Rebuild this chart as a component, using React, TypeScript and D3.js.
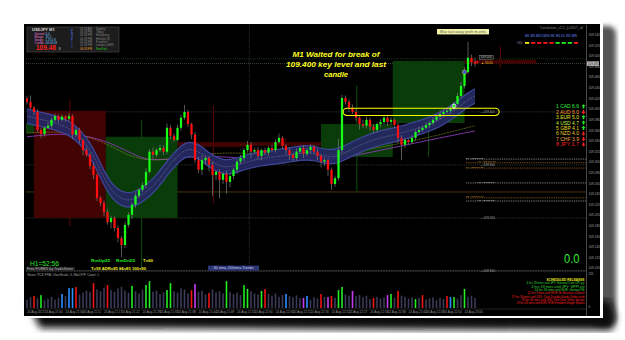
import React from "react";
import * as d3 from "d3";

// ---------- DATA ----------
const firstOpen = 109.425;
const closes = [
  109.419, 109.408, 109.400, 109.366, 109.358, 109.370, 109.374, 109.385, 109.392, 109.385,
  109.391, 109.387, 109.392, 109.357, 109.366, 109.347, 109.328, 109.319, 109.298, 109.281,
  109.238, 109.228, 109.211, 109.192, 109.200, 109.181, 109.162, 109.149, 109.187, 109.206,
  109.225, 109.242, 109.253, 109.262, 109.287, 109.325, 109.319, 109.328, 109.332, 109.325,
  109.370, 109.355, 109.347, 109.370, 109.389, 109.400, 109.377, 109.357, 109.309, 109.291,
  109.309, 109.313, 109.300, 109.281, 109.287, 109.272, 109.283, 109.268, 109.279, 109.291,
  109.306, 109.313, 109.328, 109.338, 109.325, 109.328, 109.317, 109.328, 109.323, 109.332,
  109.328, 109.343, 109.351, 109.336, 109.328, 109.319, 109.313, 109.325, 109.332, 109.321,
  109.328, 109.334, 109.325, 109.317, 109.306, 109.309, 109.291, 109.264, 109.275, 109.328,
  109.426, 109.419, 109.408, 109.400, 109.389, 109.377, 109.374, 109.385, 109.372, 109.366,
  109.377, 109.381, 109.389, 109.381, 109.385, 109.375, 109.351, 109.338, 109.347, 109.343,
  109.351, 109.362, 109.366, 109.370, 109.375, 109.379, 109.385, 109.391, 109.396, 109.400,
  109.402, 109.408, 109.415, 109.430, 109.449, 109.475, 109.502, 109.494, 109.491,
];
// wick lengths in points (0.001)
const wickHi = [
  4, 12, 3, 5, 4, 3, 6, 4, 5, 3, 4, 3, 6, 3, 5, 4, 3, 5, 4, 6,
  4, 3, 5, 6, 4, 3, 5, 4, 6, 5, 4, 6, 3, 5, 7, 5, 8, 4, 6, 5,
  8, 5, 4, 6, 5, 13, 4, 3, 5, 6, 8, 5, 4, 6, 3, 5, 4, 6, 5, 4,
  5, 6, 4, 7, 5, 4, 6, 3, 5, 4, 6, 5, 8, 4, 3, 5, 4, 6, 3, 5,
  4, 5, 3, 6, 4, 5, 3, 4, 5, 21, 6, 5, 4, 6, 5, 3, 8, 6, 4, 5,
  3, 5, 4, 6, 5, 3, 4, 5, 4, 3, 5, 4, 6, 3, 5, 4, 5, 3, 6, 4,
  5, 4, 3, 6, 8, 10, 30, 6, 8,
];
const wickLo = [
  5, 3, 6, 4, 8, 5, 3, 6, 4, 5, 3, 6, 4, 8, 5, 6, 10, 4, 6, 8,
  6, 5, 8, 5, 12, 6, 8, 23, 6, 5, 8, 6, 5, 4, 6, 3, 8, 5, 4, 6,
  5, 6, 4, 3, 5, 4, 6, 8, 5, 6, 10, 8, 12, 39, 10, 35, 8, 22, 10, 6,
  8, 5, 6, 4, 12, 5, 6, 8, 5, 6, 4, 5, 3, 6, 8, 10, 6, 5, 4, 8,
  5, 6, 4, 8, 10, 8, 12, 11, 5, 4, 6, 5, 8, 4, 6, 10, 5, 6, 8, 6,
  5, 6, 4, 8, 5, 6, 10, 29, 6, 5, 4, 6, 5, 4, 3, 5, 4, 3, 5, 4,
  3, 4, 5, 3, 4, 5, 4, 8, 6,
];
const volumes = [
  30, 38, 43, 35, 46, 28, 33, 40, 30, 36, 50, 42, 71, 71, 75, 48, 55, 62, 58, 89,
  66, 60, 72, 82, 64, 58, 70, 76, 62, 55, 79, 60, 52, 66, 82, 96, 58, 62, 50, 56,
  64, 89, 60, 55, 70, 66, 52, 64, 86, 58, 62, 48, 54, 66, 56, 60, 52, 96, 58, 50,
  55, 46, 82, 68, 60, 52, 48, 61, 68, 50, 44, 52, 40, 46, 50, 42, 38, 45, 35, 36,
  43, 30, 38, 34, 50, 40, 39, 43, 36, 64, 75, 48, 44, 61, 42, 46, 38, 44, 32, 36,
  40, 34, 38, 46, 50, 36, 61, 44, 40, 34, 38, 32, 36, 46, 30, 34, 38, 28, 36, 32,
  43, 39, 39, 34, 46, 68, 40, 44, 36,
];
const volKinds = (
  "ggRgGggggg" + "BgBBRggggR" + "gggRgggggg" + "GgggGGgggg" + "GGgggggRMg" +
  "ggRggggGgg" + "ggGGgggGRg" + "ggggBggggM" + "BgggRgMRgG" + "GggMgggggR" +
  "gggMGgRggg" + "gGgRgggggg" + "RBGggGggg"
).split("");

// 30 ema band centre, slow MA, mid MA (candle index, price)
const bandIdx = [0, 6, 12, 16, 18, 20, 22, 24, 26, 28, 30, 32, 34, 36, 38, 40, 42, 44, 46, 48, 50, 52, 54, 56, 58, 62, 66, 70, 74, 78, 82, 86, 90, 94, 98, 102, 106, 110, 114, 118, 122, 126, 128];
const bandVal = [109.392, 109.383, 109.372, 109.347, 109.328, 109.304, 109.275, 109.253, 109.240, 109.234, 109.234, 109.240, 109.249, 109.260, 109.275, 109.294, 109.309, 109.323, 109.330, 109.328, 109.321, 109.309, 109.302, 109.296, 109.296, 109.304, 109.311, 109.315, 109.317, 109.323, 109.323, 109.313, 109.319, 109.334, 109.345, 109.353, 109.358, 109.366, 109.374, 109.385, 109.402, 109.423, 109.430];
const slowIdx = [0, 10, 20, 29, 34, 41, 49, 58, 69, 78, 87, 95, 107, 118, 128];
const slowVal = [109.353, 109.360, 109.353, 109.325, 109.308, 109.311, 109.317, 109.315, 109.308, 109.311, 109.311, 109.319, 109.336, 109.351, 109.364];
const midIdx = [0, 10, 20, 26, 30, 35, 42, 50, 58, 70, 80, 90, 100, 110, 120, 128];
const midVal = [109.360, 109.364, 109.349, 109.328, 109.315, 109.308, 109.311, 109.321, 109.323, 109.321, 109.317, 109.321, 109.332, 109.345, 109.360, 109.374];

// higher timeframe candles overlay
const htfStart = [-18.5, 2, 22.5, 43, 63.5, 84, 104.5, 125];
const htfOpen = [109.360, 109.402, 109.200, 109.343, 109.343, 109.315, 109.379, 109.498];
const htfClose = [109.379, 109.200, 109.353, 109.334, 109.336, 109.377, 109.496, 109.491];
const htfHigh = [109.390, 109.423, 109.385, 109.411, 109.350, 109.450, 109.496, 109.523];
const htfLow = [109.350, 109.185, 109.106, 109.228, 109.332, 109.250, 109.315, 109.483];
const htfSpan = 20.5;

const priceTicks = [
  "109.545", "109.525", "109.505", "109.485", "109.465", "109.445", "109.425", "109.405",
  "109.385", "109.365", "109.345", "109.325", "109.305", "109.285", "109.265", "109.245",
  "109.225", "109.205", "109.185", "109.165", "109.145", "109.125", "109.105",
];
const roundLevels = [109.5, 109.4, 109.3, 109.2, 109.1];
const roundLabels = ["109.500", "109.400", "109.300", "109.200", "109.100"];
const keyLevel = 109.4;
const bidPrice = 109.491;
const brownLevel = 109.249;
const levelVals = [109.311, 109.304, 109.294, 109.266, 109.238, 109.232];
const levelKinds = ["w", "o", "o", "w", "o", "w"];
const levelTexts = ["11 ~985 109.31", "00 ~985 109.30", "10 ~985 109.29", "u1 ~98 109.27", "22 ~985 109.24", "17 ~98 109.23"];

const timeIdx = [0, 5, 11, 16, 22, 27, 33, 38, 43, 49, 54, 60, 65, 71, 76, 81, 87, 92, 98, 103, 109, 114, 119, 125];
const timeLabels = [
  "24 Aug 2017", "24 Aug 21:00", "24 Aug 21:06", "24 Aug 21:11", "24 Aug 21:17", "24 Aug 21:22",
  "24 Aug 21:28", "24 Aug 21:33", "24 Aug 21:38", "24 Aug 21:44", "24 Aug 21:49", "24 Aug 21:55",
  "24 Aug 22:00", "24 Aug 22:06", "24 Aug 22:11", "24 Aug 22:16", "24 Aug 22:22", "24 Aug 22:27",
  "24 Aug 22:33", "24 Aug 22:38", "24 Aug 22:44", "24 Aug 22:49", "24 Aug 22:54", "24 Aug 23:00",
];

const currencies = ["CAD", "AUD", "EUR", "USD", "GBP", "NZD", "CHF", "JPY"];
const strengths = ["6.6", "6.0", "5.0", "4.7", "4.1", "4.0", "3.9", "1.7"];
const strengthUp = [true, false, true, true, true, false, false, false];

const infoLabels = ["Spread", "Range", "Swaps", "Candle"];
const infoValues = ["0.0", "35.5", "1.3/-0.8", "00:00:08"];
const sessionTimes = ["03:18 AM", "03:18 PM", "03:18 PM", "04:18 PM", "10:18 PM", "10:18 PM", "09:18 PM"];
const sessionNames = ["Sydney", "Tokyo", "HongKong", "Helsinki (8)", "Frankfurt", "London (GMT)", "NewYork"];

const tfNames = "M1 M5 M15 M30 H1 H4 D1 W1 MN";
const tfSignals = ["y", "r", "r", "r", "r", "g", "g", "g", "r"];

const releaseTitle = "SCHEDULED RELEASES";
const releases = [
  "4 hrs 33 mins until JPY: National Core CPI y/y",
  "4 hrs 33 mins until JPY: SPPI y/y",
  "14 hrs 33 mins until EUR: German Ifo",
  "22 hrs 3 mins until EUR: Ifo Business Climate",
  "27 hrs 33 mins until USD: Core Durable Goods Orders m/m",
  "28 hrs 33 mins until USD: Fed Chair Yellen Speaks",
  "29 hrs 33 mins until EUR: ECB President Draghi Speaks",
];
const releaseUp = [true, true, true, false, false, false, false];
const releaseWidth = [58, 53, 50, 57, 73, 63, 68];

const noteLines = ["M1 Waited for break of", "109.400 key level and last", "candle"];
const noteWidths = [87, 100, 24];

// ---------- CHART ----------
const FONT = "'Liberation Sans', Arial, sans-serif";

export default function App() {
  const W = 625, H = 340;
  const n = closes.length;
  const x = d3.scaleLinear().domain([0, n - 1]).range([27, 475]);
  const y = d3.scaleLinear().domain([109.1, 109.56]).range([271, 27]);
  const yv = d3.scaleLinear().domain([0, 100]).range([308, 280]);
  const step = x(1) - x(0);

  const opens = closes.map((c, i) => (i === 0 ? firstOpen : closes[i - 1]));
  const highs = closes.map((c, i) => Math.max(c, opens[i]) + wickHi[i] / 1000);
  const lows = closes.map((c, i) => Math.min(c, opens[i]) - wickLo[i] / 1000);

  const bandPts = bandIdx.map((b, k) => [b, bandVal[k]] as [number, number]);
  const bandHalf = 0.0135;
  const area = d3.area<[number, number]>()
    .x((d) => x(d[0]))
    .y0((d) => y(d[1] - bandHalf))
    .y1((d) => y(d[1] + bandHalf))
    .curve(d3.curveBasis);
  const line = d3.line<[number, number]>().x((d) => x(d[0])).y((d) => y(d[1])).curve(d3.curveBasis);
  const upperEdge = d3.line<[number, number]>().x((d) => x(d[0])).y((d) => y(d[1] + bandHalf)).curve(d3.curveBasis);
  const lowerEdge = d3.line<[number, number]>().x((d) => x(d[0])).y((d) => y(d[1] - bandHalf)).curve(d3.curveBasis);
  const slowPts = slowIdx.map((b, k) => [b, slowVal[k]] as [number, number]);
  const midPts = midIdx.map((b, k) => [b, midVal[k]] as [number, number]);

  const volColor: Record<string, string> = { g: "#3a3b58", G: "#22ee22", R: "#ee1515", B: "#2a90ff", M: "#c23cf0" };
  const curColors = ["#33ee33", "#ff9a33", "#e8e822", "#c8ee44", "#e8dc22", "#eec833", "#f0a040", "#ff2222"];
  const sigColor: Record<string, string> = { y: "#f0f000", r: "#ff1a1a", g: "#22ee22" };

  const plotL = 26, plotR = 586;

  return (
    <svg width={W} height={H} viewBox={`0 0 ${W} ${H}`} style={{ position: "absolute", left: 0, top: 0 }} fontFamily={FONT}>
      <defs>
        <filter id="blur" x="-10%" y="-10%" width="120%" height="120%">
          <feGaussianBlur stdDeviation="3.5" />
        </filter>
        <filter id="blur2" x="-10%" y="-10%" width="120%" height="120%">
          <feGaussianBlur stdDeviation="2.5" />
        </filter>
        <clipPath id="plot">
          <rect x={plotL} y={25} width={plotR - plotL} height={246} />
        </clipPath>
      </defs>
      <rect x={0} y={0} width={W} height={H} fill="#ffffff" />
      {/* shadows */}
      <rect x={592} y={26} width={24} height={300} rx={8} fill="#555" filter="url(#blur2)" />
      <path d="M 26 300 L 610 300 L 616 318 L 612 330 L 40 328 Z" fill="#111" filter="url(#blur)" />
      <rect x={21} y={21} width={582} height={297} fill="#ffffff" />
      {/* panel */}
      <rect x={24} y={24} width={576} height={292} fill="#000000" />

      {/* grid */}
      <g clipPath="url(#plot)">
        {roundLevels.map((p, k) => (
          <line key={k} x1={plotL} x2={plotR} y1={y(p)} y2={y(p)} stroke={k === 0 ? "#2f6a2f" : "#5a5a5a"} strokeWidth={0.6} strokeDasharray="1,1.2" />
        ))}
        <line x1={x(63.5)} x2={x(63.5)} y1={25} y2={271} stroke="#5a5a5a" strokeWidth={0.6} strokeDasharray="1,1.2" />
        <line x1={plotL} x2={plotR} y1={y(bidPrice)} y2={y(bidPrice)} stroke="#6a6a6a" strokeWidth={0.6} strokeDasharray="1,1" />
        <line x1={plotL} x2={plotR} y1={y(brownLevel)} y2={y(brownLevel)} stroke="#5a4412" strokeWidth={0.8} />

        {/* higher timeframe candles */}
        {htfStart.map((s, k) => {
          const bull = htfClose[k] >= htfOpen[k];
          const xm = x(s + htfSpan / 2);
          return (
            <g key={k}>
              <line x1={xm} x2={xm} y1={y(htfHigh[k])} y2={y(htfLow[k])} stroke={bull ? "#0f5a0f" : "#6a0808"} strokeWidth={0.9} />
              <rect x={x(s)} width={x(s + htfSpan) - x(s)} y={y(Math.max(htfOpen[k], htfClose[k]))}
                height={Math.max(2.5, Math.abs(y(htfOpen[k]) - y(htfClose[k])))} fill={bull ? "#0a3c0a" : "#420303"} />
            </g>
          );
        })}

        {/* MAs */}
        <path d={line(slowPts) || ""} fill="none" stroke="#8a3ab0" strokeWidth={0.9} />
        <path d={line(midPts) || ""} fill="none" stroke="#9a9a30" strokeWidth={0.8} strokeDasharray="0.8,0.8" />
        <path d={area(bandPts) || ""} fill="#252964" opacity={0.92} />
        <path d={upperEdge(bandPts) || ""} fill="none" stroke="#3f479a" strokeWidth={1.2} />
        <path d={lowerEdge(bandPts) || ""} fill="none" stroke="#3f479a" strokeWidth={1.2} />
        <path d={line(bandPts) || ""} fill="none" stroke="#8c8ca8" strokeWidth={0.6} strokeDasharray="0.8,0.9" />

        {/* candles */}
        {closes.map((c, i) => {
          const o = opens[i];
          const up = c >= o;
          const cx = x(i);
          const top = y(Math.max(o, c));
          const h = Math.max(1, Math.abs(y(o) - y(c)));
          return (
            <g key={i}>
              <line x1={cx} x2={cx} y1={y(highs[i])} y2={y(lows[i])} stroke="#7a7a7a" strokeWidth={0.7} />
              <rect x={cx - step * 0.32} width={step * 0.64} y={top} height={h} fill={up ? "#18ff18" : "#ff1010"} />
            </g>
          );
        })}

        {/* key level marker */}
        <rect x={x(90.3)} width={x(134.9) - x(90.3)} y={y(keyLevel + 0.0068)} height={y(keyLevel - 0.0068) - y(keyLevel + 0.0068)}
          rx={3.8} fill="none" stroke="#ffff00" strokeWidth={1.1} />
        <circle cx={x(122)} cy={y(109.411)} r={2} fill="none" stroke="#ffffff" strokeWidth={0.8} />
        <circle cx={x(125)} cy={y(109.475)} r={2} fill="#2244ff" stroke="#f0e020" strokeWidth={0.6} />

        {/* right side levels */}
        {levelVals.map((p, k) => (
          <g key={k}>
            <line x1={466} x2={plotR} y1={y(p)} y2={y(p)} stroke={levelKinds[k] === "w" ? "#d8d8d8" : "#c8902a"} strokeWidth={0.6} strokeDasharray="1,0.8" />
            <text x={466 + (k % 2) * 12} y={y(p) - 0.4} fontSize={2.5} fill={levelKinds[k] === "w" ? "#d8d8d8" : "#d09a30"}>{levelTexts[k]}</text>
          </g>
        ))}
      </g>

      {/* round level labels */}
      <rect x={479.5} y={y(109.5) - 3.4} width={14} height={4} fill="#1a1a1a" stroke="#9a9a9a" strokeWidth={0.4} />
      {roundLabels.map((t, k) => (
        <text key={k} x={480.5} y={y(roundLevels[k]) + (k === 0 ? -0.5 : 1.2)} fontSize={3.1} fill="#aaaaaa">{k === 0 ? t : "\u2014" + t}</text>
      ))}
      <text x={481} y={y(bidPrice) + 0.2} fontSize={3.1} fill="#e8d020">{"\u25b2 50.50"}</text>
      <rect x={476.5} y={y(bidPrice) - 2.5} width={1.6} height={2.2} fill="#ff1010" />

      {/* price axis */}
      <line x1={plotR + 0.5} x2={plotR + 0.5} y1={25} y2={316} stroke="#777" strokeWidth={0.6} />
      {priceTicks.map((t, k) => (
        <text key={k} x={588.5} y={y(+t) + 1.1} fontSize={3.2} fill="#a0a0a0">{t}</text>
      ))}
      <rect x={587} y={y(bidPrice) - 2.2} width={12} height={4.4} fill="#c8c8c8" />
      <text x={587.6} y={y(bidPrice) + 1.2} fontSize={3.2} fill="#000">{bidPrice.toFixed(3)}</text>

      {/* sub panel */}
      <line x1={plotL} x2={plotR} y1={271} y2={271} stroke="#8a8a8a" strokeWidth={0.7} strokeDasharray="1,0.6" />
      <text x={27.5} y={275.6} fontSize={3.2} fill="#a8a8a8">Bears TICK FPA:   ChartScale: 3, NbrOfTF Count: 1</text>
      {volumes.map((v, i) => (
        <rect key={i} x={x(i) - 0.8} width={1.6} y={yv(v)} height={yv(0) - yv(v)} fill={volColor[volKinds[i]]} />
      ))}
      <text x={588.5} y={275} fontSize={3} fill="#a0a0a0">255</text>
      <text x={588.5} y={308} fontSize={3} fill="#a0a0a0">0</text>
      <line x1={plotL} x2={plotR} y1={309} y2={309} stroke="#444" strokeWidth={0.5} />
      {timeIdx.map((ti, k) => (
        <text key={k} x={x(ti)} y={312.6} fontSize={3.1} fill="#9a9a9a">{timeLabels[k]}</text>
      ))}

      {/* info box */}
      <rect x={27} y={27} width={92} height={25} fill="#1c1c1c" stroke="#555" strokeWidth={0.5} />
      <text x={32} y={31.4} fontSize={4} fontWeight="bold" fill="#dddddd">USDJPY  M1</text>
      {infoLabels.map((t, k) => (
        <g key={k}>
          <text x={34.5} y={34.8 + k * 3.2} fontSize={3} fill="#e07ad0">{t}</text>
          <text x={45.5} y={34.8 + k * 3.2} fontSize={3} fill="#7ec8ff">{infoValues[k]}</text>
        </g>
      ))}
      <text x={36} y={50} fontSize={6.5} fontWeight="bold" fill="#ff2020">109.48</text>
      <text x={58.5} y={50} fontSize={3.5} fill="#dddddd">3</text>
      {"PROFIT".split("").map((ch, k) => (
        <text key={k} x={72} y={31.5 + k * 3.2} fontSize={3} fill="#5a78ff" textAnchor="middle">{ch}</text>
      ))}
      {sessionTimes.map((t, k) => (
        <g key={k}>
          <text x={80} y={29.8 + k * 3.3} fontSize={2.8} fill={k === 6 ? "#f0a030" : "#8a8a8a"}>{t}</text>
          <text x={96} y={29.8 + k * 3.3} fontSize={2.8} fill={k === 6 ? "#22cc22" : "#8a8a8a"}>{sessionNames[k]}</text>
        </g>
      ))}

      {/* top right panel */}
      <text x={540} y={29} fontSize={2.8} fill="#8a8a8a" textLength={43} lengthAdjust="spacingAndGlyphs">Correlation_v1.5_(c)2017_all</text>
      <text x={525} y={37.2} fontSize={3} fill="#6a8cff" textLength={52} lengthAdjust="spacingAndGlyphs">{tfNames}</text>
      <text x={517} y={44} fontSize={2.6} fill="#8a8aa8">USD</text>
      {tfSignals.map((s, k) => (
        <rect key={k} x={525 + k * 6.1} y={42} width={4.2} height={1.8} fill={sigColor[s]} />
      ))}
      <rect x={437} y={29} width={52} height={5.4} fill="#f2f2a8" />
      <text x={463} y={32.9} fontSize={3} fill="#555" textAnchor="middle" textLength={46} lengthAdjust="spacingAndGlyphs">Max last away profit m-ents</text>

      {/* currency strength */}
      {currencies.map((c, k) => {
        const cy = 106.5 + k * 5.4;
        const up = strengthUp[k];
        const ax = 583.5;
        const d = up
          ? `M ${ax} ${cy - 2.3} L ${ax + 2} ${cy - 0.2} L ${ax + 0.8} ${cy - 0.2} L ${ax + 0.8} ${cy + 1.9} L ${ax - 0.8} ${cy + 1.9} L ${ax - 0.8} ${cy - 0.2} L ${ax - 2} ${cy - 0.2} Z`
          : `M ${ax} ${cy + 2.3} L ${ax + 2} ${cy + 0.2} L ${ax + 0.8} ${cy + 0.2} L ${ax + 0.8} ${cy - 1.9} L ${ax - 0.8} ${cy - 1.9} L ${ax - 0.8} ${cy + 0.2} L ${ax - 2} ${cy + 0.2} Z`;
        return (
          <g key={c}>
            <text x={556} y={cy + 1.8} fontSize={5} fill={curColors[k]} textLength={23} lengthAdjust="spacingAndGlyphs">{`${k + 1} ${c} ${strengths[k]}`}</text>
            <path d={d} fill={up ? "#22ee22" : "#ff2020"} />
          </g>
        );
      })}

      {/* annotation */}
      {noteLines.map((t, k) => (
        <text key={k} x={336} y={56.5 + k * 10} fontSize={7.3} fontWeight="bold" fontStyle="italic" fill="#ffff22"
          textAnchor="middle" textLength={noteWidths[k]} lengthAdjust="spacingAndGlyphs">{t}</text>
      ))}

      {/* big zero */}
      <text x={564} y={262.5} fontSize={13} fill="#33ee33" textLength={15.5} lengthAdjust="spacingAndGlyphs">0.0</text>

      {/* scheduled releases */}
      <text x={584.5} y={280.6} fontSize={3.2} fontWeight="bold" fill="#e8e820" textAnchor="end" textLength={38} lengthAdjust="spacingAndGlyphs">{releaseTitle}</text>
      {releases.map((t, k) => (
        <text key={k} x={584.5} y={284.2 + k * 3.35} fontSize={3} fill={releaseUp[k] ? "#33dd33" : "#ff2020"} textAnchor="end"
          textLength={releaseWidth[k]} lengthAdjust="spacingAndGlyphs">{t}</text>
      ))}

      {/* bottom-left texts */}
      <text x={30} y={266} fontSize={6.6} fill="#2ee82e" textLength={29} lengthAdjust="spacingAndGlyphs">H1=52:56</text>
      <rect x={26} y={266.8} width={49} height={3.8} fill="#262626" />
      <text x={27} y={269.8} fontSize={3} fill="#b8b8b8" textLength={46} lengthAdjust="spacingAndGlyphs">Free FOREX by TradeStone</text>
      <text x={91} y={261.6} fontSize={4} fontWeight="bold" fill="#22ee22" textLength={19} lengthAdjust="spacingAndGlyphs">RmUp25</text>
      <text x={116} y={261.6} fontSize={4} fontWeight="bold" fill="#22ee22" textLength={19} lengthAdjust="spacingAndGlyphs">RmDn55</text>
      <text x={143} y={261.6} fontSize={4} fontWeight="bold" fill="#f0f020" textLength={10} lengthAdjust="spacingAndGlyphs">T=60</text>
      <text x={91} y={269.9} fontSize={3.3} fontWeight="bold" fill="#f0f020" textLength={55} lengthAdjust="spacingAndGlyphs">T=59  ADR=85  84=85  100=90</text>
      <rect x={208} y={265.6} width={51} height={5} fill="#2c3577" />
      <text x={233.5} y={269.2} fontSize={3} fill="#cfcfe8" textAnchor="middle" textLength={40} lengthAdjust="spacingAndGlyphs">30 ema, 200ema Trends</text>
    </svg>
  );
}
